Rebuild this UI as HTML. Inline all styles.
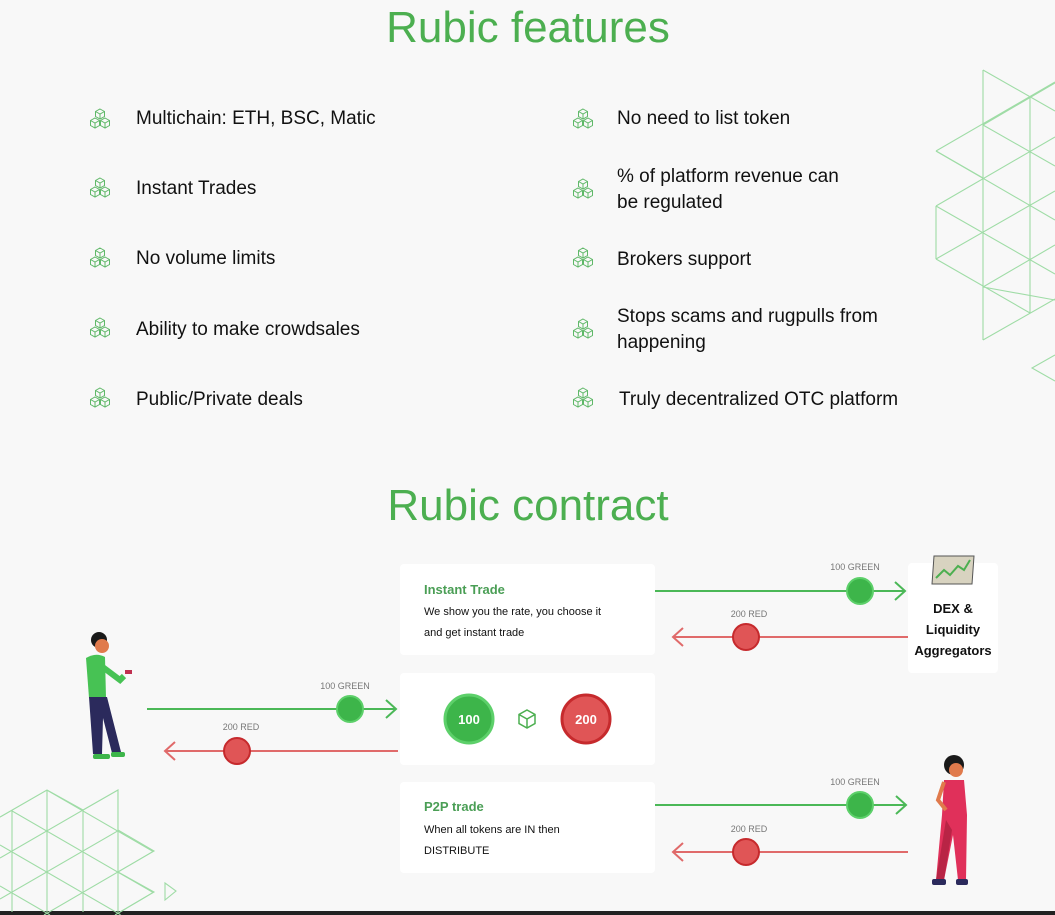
<!DOCTYPE html>
<html><head><meta charset="utf-8"><style>
html,body{margin:0;padding:0;background:#f8f8f8;width:1055px;height:915px;overflow:hidden;}
svg{display:block}
text{font-family:"Liberation Sans",sans-serif}
</style></head><body>
<svg width="1055" height="915" viewBox="0 0 1055 915" xmlns="http://www.w3.org/2000/svg">
<defs>
<g id="cube">
 <path d="M0,-5 L4.5,-2.5 L4.5,2.5 L0,5 L-4.5,2.5 L-4.5,-2.5 Z M-4.5,-2.5 L0,0 L4.5,-2.5 M0,0 L0,5" fill="none" stroke="#5fb868" stroke-width="1"/>
</g>
<g id="ico">
 <use href="#cube" x="0" y="-5"/>
 <use href="#cube" x="-5" y="4"/>
 <use href="#cube" x="5" y="4"/>
</g>
<clipPath id="bl"><path d="M0,817 L47,790 L83,810 L118,790 L118,830 L154,851 L118,872 L154,892 L120,915 L0,915 Z"/></clipPath>
</defs>
<rect width="1055" height="915" fill="#f8f8f8"/>
<rect x="0" y="911" width="1055" height="4" fill="#222"/>

<g stroke="#9fdca6" stroke-width="1.1" fill="none">
 <path d="M983,70 L983,340 M1030,97 L1030,313 M936,206 L936,259"/>
 <path d="M983,70 L1055,111 M983,125 L1055,166 M936,151 L1055,220 M936,206 L1055,274 M936,259 L1030,313 M983,287 L1055,300"/>
 <path d="M983,125 L1055,83 M936,151 L1055,82 M936,206 L1055,137 M936,259 L1055,191 M983,287 L1055,245 M983,340 L1055,299 M936,151 L983,178"/>
 <path d="M1055,355 L1032,368 L1055,381"/>
</g>
<g stroke="#9fdca6" stroke-width="1.1" fill="none">
 <g clip-path="url(#bl)">
  <path d="M12,790 L12,912 M47,790 L47,912 M83,790 L83,912 M118,790 L118,912"/>
  <path d="M0,763 L154,852 M0,804 L154,893 M0,845 L121,915 M0,886 L50,915"/>
  <path d="M0,817 L154,728 M0,858 L154,769 M0,899 L154,810 M44,915 L154,851 M115,915 L154,892"/>
 </g>
 <path d="M0,817 L47,790 L83,810 L118,790 L118,830 L154,851 L118,872 L154,892 L120,912"/>
 <path d="M165,883 L165,900 L176,891 Z"/>
</g>

<text x="528" y="42" text-anchor="middle" font-size="44" fill="#4caf50">Rubic features</text>

<g font-size="19" fill="#111">
 <use href="#ico" x="100" y="119"/><text x="136" y="124">Multichain: ETH, BSC, Matic</text>
 <use href="#ico" x="100" y="188"/><text x="136" y="194">Instant Trades</text>
 <use href="#ico" x="100" y="258"/><text x="136" y="264">No volume limits</text>
 <use href="#ico" x="100" y="328"/><text x="136" y="335">Ability to make crowdsales</text>
 <use href="#ico" x="100" y="398"/><text x="136" y="405">Public/Private deals</text>
 <use href="#ico" x="583" y="119"/><text x="617" y="124">No need to list token</text>
 <use href="#ico" x="583" y="189"/><text x="617" y="182">% of platform revenue can</text><text x="617" y="208">be regulated</text>
 <use href="#ico" x="583" y="258"/><text x="617" y="265">Brokers support</text>
 <use href="#ico" x="583" y="329"/><text x="617" y="322">Stops scams and rugpulls from</text><text x="617" y="348">happening</text>
 <use href="#ico" x="583" y="398"/><text x="619" y="405">Truly decentralized OTC platform</text>
</g>

<text x="528" y="520" text-anchor="middle" font-size="44" fill="#4caf50">Rubic contract</text>

<g fill="#fff">
 <rect x="400" y="564" width="255" height="91" rx="4"/>
 <rect x="400" y="673" width="255" height="92" rx="4"/>
 <rect x="400" y="782" width="255" height="91" rx="4"/>
 <rect x="908" y="563" width="90" height="110" rx="4"/>
</g>
<text x="424" y="594" font-size="13" font-weight="bold" fill="#4a9e55">Instant Trade</text>
<text x="424" y="615" font-size="11" fill="#111">We show you the rate, you choose it</text>
<text x="424" y="636" font-size="11" fill="#111">and get instant trade</text>
<text x="424" y="811" font-size="13" font-weight="bold" fill="#4a9e55">P2P trade</text>
<text x="424" y="833" font-size="11" fill="#111">When all tokens are IN then</text>
<text x="424" y="854" font-size="11" fill="#111">DISTRIBUTE</text>
<g font-size="13" font-weight="bold" fill="#111" text-anchor="middle">
 <text x="953" y="613">DEX &amp;</text>
 <text x="953" y="634">Liquidity</text>
 <text x="953" y="655">Aggregators</text>
</g>
<g transform="translate(932,556)">
 <path d="M2,0 L42,0 L40,28 L0,28 Z" fill="#d8d3c0" stroke="#555" stroke-width="1"/>
 <path d="M4,22 L12,14 L18,19 L26,10 L32,14 L38,4" fill="none" stroke="#4caf50" stroke-width="2"/>
</g>

<circle cx="469" cy="719" r="24" fill="#3db54a" stroke="#5dd06a" stroke-width="3"/>
<text x="469" y="724" text-anchor="middle" font-size="13" font-weight="bold" fill="#fff">100</text>
<circle cx="586" cy="719" r="24" fill="#e05556" stroke="#c62a2d" stroke-width="3"/>
<text x="586" y="724" text-anchor="middle" font-size="13" font-weight="bold" fill="#fff">200</text>
<g transform="translate(527,719)"><path d="M0,-9 L8,-4.5 L8,4.5 L0,9 L-8,4.5 L-8,-4.5 Z M-8,-4.5 L0,0 L8,-4.5 M0,0 L0,9" fill="none" stroke="#4caf50" stroke-width="1.5"/></g>

<g fill="none" stroke-width="2">
 <path d="M655,591 L905,591 M895,582 L905,591 L895,600" stroke="#4bb857"/>
 <path d="M908,637 L673,637 M683,628 L673,637 L683,646" stroke="#e06a6a"/>
 <path d="M147,709 L396,709 M386,700 L396,709 L386,718" stroke="#4bb857"/>
 <path d="M398,751 L165,751 M175,742 L165,751 L175,760" stroke="#e06a6a"/>
 <path d="M655,805 L906,805 M896,796 L906,805 L896,814" stroke="#4bb857"/>
 <path d="M908,852 L673,852 M683,843 L673,852 L683,861" stroke="#e06a6a"/>
</g>
<g stroke-width="2">
 <circle cx="860" cy="591" r="13" fill="#3db54a" stroke="#5dd06a"/>
 <circle cx="746" cy="637" r="13" fill="#e05556" stroke="#c62a2d"/>
 <circle cx="350" cy="709" r="13" fill="#3db54a" stroke="#5dd06a"/>
 <circle cx="237" cy="751" r="13" fill="#e05556" stroke="#c62a2d"/>
 <circle cx="860" cy="805" r="13" fill="#3db54a" stroke="#5dd06a"/>
 <circle cx="746" cy="852" r="13" fill="#e05556" stroke="#c62a2d"/>
</g>
<g font-size="9" fill="#777" text-anchor="middle">
 <text x="855" y="570">100 GREEN</text>
 <text x="749" y="617">200 RED</text>
 <text x="345" y="689">100 GREEN</text>
 <text x="241" y="730">200 RED</text>
 <text x="855" y="785">100 GREEN</text>
 <text x="749" y="832">200 RED</text>
</g>

<g>
 <circle cx="99" cy="640" r="8" fill="#1a1a1a"/>
 <circle cx="102" cy="646" r="7" fill="#e07a4c"/>
 <path d="M86,658 Q96,652 105,657 L106,698 L89,698 Z" fill="#47c254"/>
 <path d="M100,665 L120,680 L124,676" stroke="#47c254" stroke-width="6" fill="none"/>
 <rect x="125" y="670" width="7" height="4" fill="#c03050"/>
 <path d="M89,697 L107,697 L121,752 L112,753 L103,718 L102,754 L93,754 Z" fill="#2b2a5c"/>
 <rect x="93" y="754" width="17" height="5" rx="2" fill="#3db54a"/>
 <rect x="111" y="752" width="14" height="5" rx="2" fill="#3db54a"/>
</g>
<g>
 <circle cx="954" cy="765" r="10" fill="#1a1a1a"/>
 <circle cx="956" cy="770" r="7" fill="#e07a4c"/>
 <path d="M944,780 L964,780 L967,815 L966,880 L958,880 L953,835 L944,880 L936,880 L942,815 Z" fill="#e0305a"/>
 <path d="M946,820 L952,830 L944,880 L936,880 Z" fill="#b82445"/>
 <rect x="932" y="879" width="14" height="6" rx="2" fill="#2b2a5c"/>
 <rect x="956" y="879" width="12" height="6" rx="2" fill="#2b2a5c"/>
 <path d="M944,782 L938,800 L946,810" stroke="#e07a4c" stroke-width="4" fill="none"/>
</g>
</svg>
</body></html>
